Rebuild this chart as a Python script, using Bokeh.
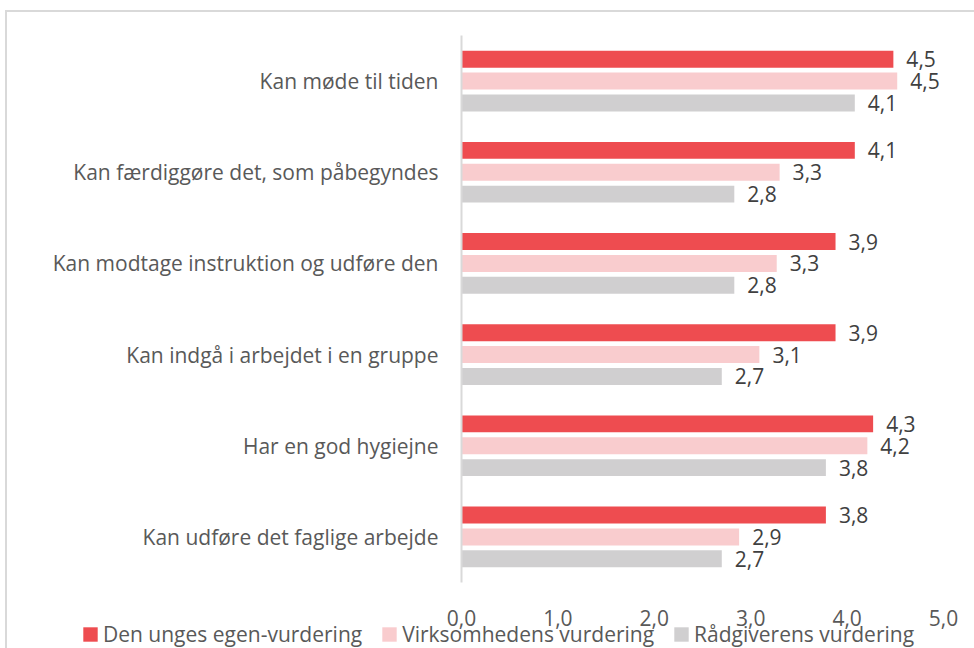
from bokeh.plotting import figure
from bokeh.layouts import column
from bokeh.models import (ColumnDataSource, FactorRange, FixedTicker, CustomJSTickFormatter,
                          Legend, LegendItem, Range1d)
from bokeh.transform import dodge
from bokeh.core.properties import value
from bokeh.embed import file_html
from bokeh.resources import INLINE

categories = [
    "Kan møde til tiden",
    "Kan færdiggøre det, som påbegyndes",
    "Kan modtage instruktion og udføre den",
    "Kan indgå i arbejdet i en gruppe",
    "Har en god hygiejne",
    "Kan udføre det faglige arbejde",
]
series_names = ["Den unges egen-vurdering", "Virksomhedens vurdering", "Rådgiverens vurdering"]
egen = [4.48, 4.08, 3.88, 3.88, 4.27, 3.78]
virksomhed = [4.52, 3.30, 3.27, 3.09, 4.21, 2.88]
raadgiver = [4.08, 2.83, 2.83, 2.70, 3.78, 2.70]
x_ticks = [0, 1, 2, 3, 4, 5]

colors = ["#EE4C50", "#F9CCCE", "#D0CFD0"]
offsets = [0.24, 0.0, -0.24]
FONT = "Open Sans"
FS = "21px"

p = figure(
    width=967, height=626,
    y_range=FactorRange(factors=list(reversed(categories)), range_padding=0),
    x_range=(0, 5),
    output_backend="svg", toolbar_location=None,
    min_border_left=454, min_border_right=31, min_border_top=23, min_border_bottom=56,
)
p.frame_align = False
p.outline_line_color = None
p.xgrid.visible = False
p.ygrid.visible = False
p.background_fill_color = "white"
p.border_fill_color = "white"

series_values = [egen, virksomhed, raadgiver]
for name, vals, col, off in zip(series_names, series_values, colors, offsets):
    src = ColumnDataSource(dict(
        cat=categories, val=vals,
        lbl=[f"{v:.1f}".replace(".", ",") for v in vals],
    ))
    p.hbar(y=dodge("cat", off, range=p.y_range), right="val", left=0, height=0.186,
           source=src, fill_color=col, line_color=None)
    p.text(x="val", y=dodge("cat", off, range=p.y_range), text="lbl", source=src,
           x_offset=13, text_align="left", text_baseline="middle",
           text_font=value(FONT), text_font_size=FS, text_color="#404040")

# y axis (categories)
ya = p.yaxis[0]
ya.axis_line_color = "#D9D9D9"
ya.axis_line_width = 2
ya.major_tick_line_color = None
ya.minor_tick_line_color = None
ya.major_tick_out = 0
ya.major_tick_in = 0
ya.major_label_standoff = 23
ya.major_label_text_font = FONT
ya.major_label_text_font_size = FS
ya.major_label_text_color = "#595959"

# x axis (values)
xa = p.xaxis[0]
xa.ticker = FixedTicker(ticks=x_ticks)
xa.formatter = CustomJSTickFormatter(code="return tick.toFixed(1).replace('.', ',');")
xa.axis_line_color = None
xa.major_tick_line_color = None
xa.minor_tick_line_color = None
xa.major_tick_out = 0
xa.major_tick_in = 0
xa.major_label_standoff = 27
xa.major_label_text_font = FONT
xa.major_label_text_font_size = FS
xa.major_label_text_color = "#595959"

# legend in its own strip under the chart
lf = figure(width=967, height=28, x_range=Range1d(0, 1), y_range=Range1d(0, 1),
            x_axis_type=None, y_axis_type=None, output_backend="svg", toolbar_location=None,
            min_border=0, min_border_left=0, min_border_right=0, min_border_top=0, min_border_bottom=0)
lf.frame_align = False
lf.outline_line_color = None
lf.xgrid.visible = False
lf.ygrid.visible = False
lf.background_fill_color = None
lf.border_fill_color = None
lf.styles = {"margin-top": "-18px"}

items = []
for name, vals, col in zip(series_names, series_values, colors):
    # zero-size bars: they only carry the legend swatch style
    lsrc = ColumnDataSource(dict(v=vals))
    r = lf.hbar(y="v", left=0, right=0, height=0, source=lsrc, fill_color=col, line_color=None)
    items.append(LegendItem(label=name, renderers=[r]))

legend = Legend(items=items, orientation="horizontal", location="center_left",
                glyph_width=18, glyph_height=18, label_standoff=4, spacing=18,
                padding=0, margin=74, border_line_color=None, background_fill_alpha=0,
                label_text_font=FONT, label_text_font_size=FS, label_text_color="#595959")
lf.add_layout(legend, "center")

layout = column(p, lf, spacing=0)
layout.styles = {"margin-left": "5px", "margin-top": "10px",
                 "border-left": "2px solid #d9d9d9", "border-top": "2px solid #d9d9d9"}

open("out.html", "w").write(file_html(layout, INLINE))
